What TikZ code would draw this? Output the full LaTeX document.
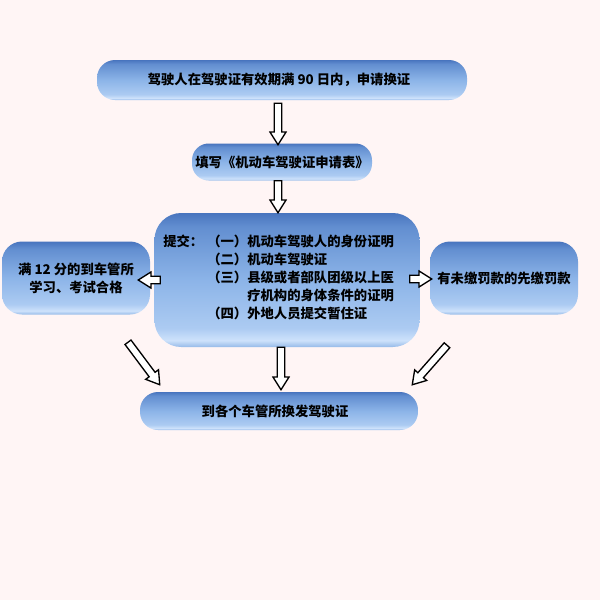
\documentclass[tikz,border=0pt]{standalone}
\usepackage{fontspec}
\setmainfont{Noto Sans CJK SC}
\usetikzlibrary{calc}
\definecolor{bg}{RGB}{255,245,245}
\definecolor{cz}{RGB}{72,116,190}
\definecolor{ca}{RGB}{98,142,208}
\definecolor{cb}{RGB}{140,180,232}
\definecolor{cc}{RGB}{172,203,242}
\definecolor{cd}{RGB}{206,226,251}
\definecolor{ce}{RGB}{150,186,232}
\pgfdeclareverticalshading{boxsh}{100bp}{color(0bp)=(ce); color(25bp)=(ce); color(27.5bp)=(cd); color(32bp)=(cc); color(50bp)=(cb); color(70bp)=(ca); color(75bp)=(cz); color(100bp)=(cz)}
\tikzset{
  box/.style={rectangle, rounded corners=#1, shading=boxsh, inner sep=0pt, align=center},
  harr/.style={draw=black, fill=white, line width=1pt, line join=miter},
}
\newcommand\harrow[2]{%
  \draw[harr] let \p1=(#1), \p2=(#2),
    \n1={atan2(\y2-\y1,\x2-\x1)}, \n2={veclen(\x2-\x1,\y2-\y1)} in
    ($(\p1)+(\n1+90:2.8pt)$) --
    ($(\p1)+(\n1:{\n2-9.5pt})+(\n1+90:2.8pt)$) --
    ($(\p1)+(\n1:{\n2-9.5pt})+(\n1+90:6pt)$) --
    (\p2) --
    ($(\p1)+(\n1:{\n2-9.5pt})+(\n1-90:6pt)$) --
    ($(\p1)+(\n1:{\n2-9.5pt})+(\n1-90:2.8pt)$) --
    ($(\p1)+(\n1-90:2.8pt)$) -- cycle;}
\begin{document}
\begin{tikzpicture}[x=0.75pt,y=-0.75pt,font=\bfseries\fontsize{10}{13.5}\selectfont]
\fill[bg] (0,0) rectangle (600,600);
\useasboundingbox (0,0) rectangle (600,600);
% boxes
\node[box=13.5pt, minimum width=370*0.75pt, minimum height=40*0.75pt] (b1) at (282,80) {};
\node (t1) at (279,80) {驾驶人在驾驶证有效期满 90 日内，申请换证};
\node[box=12.5pt, minimum width=180*0.75pt, minimum height=37*0.75pt] (b2) at (282,162) {填写《机动车驾驶证申请表》};
\node[box=20pt, minimum width=265*0.75pt, minimum height=134*0.75pt] (b3) at (287,280) {};
\node[anchor=west, inner sep=0pt] (t3) at (163,279) {\begin{tabular}{@{}l@{\hspace{3pt}}l@{}}
提交：&（一）机动车驾驶人的身份证明\\
&（二）机动车驾驶证\\
&（三）县级或者部队团级以上医\\
&\phantom{（三）}疗机构的身体条件的证明\\
&（四）外地人员提交暂住证
\end{tabular}};
\node[box=15pt, minimum width=148*0.75pt, minimum height=73*0.75pt] (bl) at (76,278) {满 12 分的到车管所\\学习、考试合格};
\node[box=15pt, minimum width=148*0.75pt, minimum height=73*0.75pt] (br) at (504,278) {有未缴罚款的先缴罚款};
\node[box=13.5pt, minimum width=278*0.75pt, minimum height=38*0.75pt] (b4) at (279,411) {};
\node (t4) at (275,411) {到各个车管所换发驾驶证};
% arrows
\harrow{$(b1.south)+(-4,3)$}{$(b2.north)+(-4,1.5)$}
\harrow{$(b2.south)+(-4,0)$}{$(b3.north)+(-9,0)$}
\harrow{$(b3.west)+(6,0)$}{$(bl.east)+(-12,2)$}
\harrow{$(b3.east)+(-10,-1)$}{$(br.west)+(2,1)$}
\harrow{$(b3.south)+(-6,0)$}{$(b4.north)+(2,-2)$}
\harrow{$(bl.south)+(52,27.5)$}{$(b4.north west)+(20,-7)$}
\harrow{$(br.south)+(-57,30.5)$}{$(b4.north east)+(-6,-7)$}
\end{tikzpicture}
\end{document}
